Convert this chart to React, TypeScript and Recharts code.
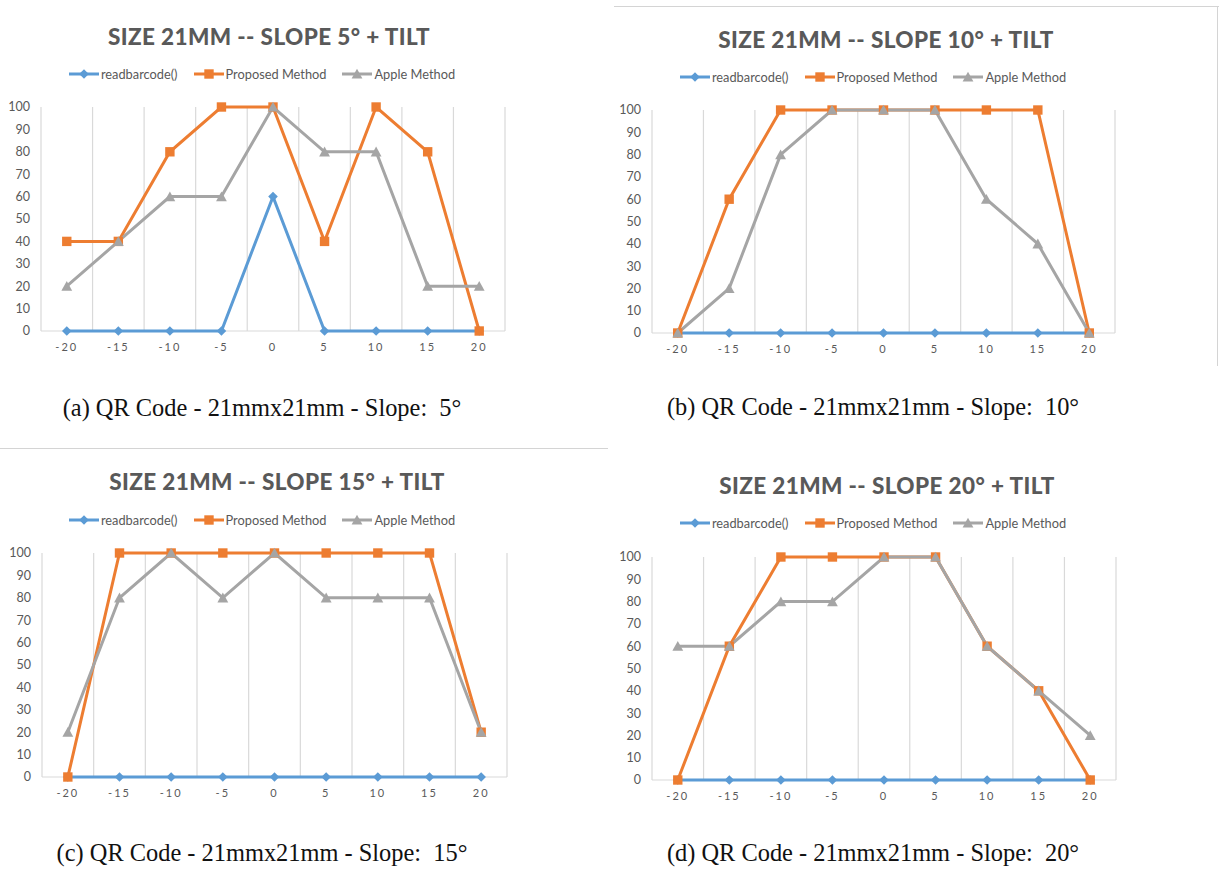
import React from 'react';
import { LineChart, Line, XAxis, YAxis, CartesianGrid, Legend } from 'recharts';

// ---------- data ----------
const xValues = [-20, -15, -10, -5, 0, 5, 10, 15, 20];
const gridBoundaries = [-22.5, -17.5, -12.5, -7.5, -2.5, 2.5, 7.5, 12.5, 17.5, 22.5];
const baseline = [0];
const yTicks = [0, 10, 20, 30, 40, 50, 60, 70, 80, 90, 100];
const seriesNames = ['readbarcode()', 'Proposed Method', 'Apple Method'];

const titles = [
  'SIZE 21MM -- SLOPE 5° + TILT',
  'SIZE 21MM -- SLOPE 10° + TILT',
  'SIZE 21MM -- SLOPE 15° + TILT',
  'SIZE 21MM -- SLOPE 20° + TILT',
];
const captions = [
  '(a) QR Code - 21mmx21mm - Slope:\u00a0 5°',
  '(b) QR Code - 21mmx21mm - Slope:\u00a0 10°',
  '(c) QR Code - 21mmx21mm - Slope:\u00a0 15°',
  '(d) QR Code - 21mmx21mm - Slope:\u00a0 20°',
];

const readbarcode5 = [0, 0, 0, 0, 60, 0, 0, 0, 0];
const proposed5 = [40, 40, 80, 100, 100, 40, 100, 80, 0];
const apple5 = [20, 40, 60, 60, 100, 80, 80, 20, 20];

const readbarcode10 = [0, 0, 0, 0, 0, 0, 0, 0, 0];
const proposed10 = [0, 60, 100, 100, 100, 100, 100, 100, 0];
const apple10 = [0, 20, 80, 100, 100, 100, 60, 40, 0];

const readbarcode15 = [0, 0, 0, 0, 0, 0, 0, 0, 0];
const proposed15 = [0, 100, 100, 100, 100, 100, 100, 100, 20];
const apple15 = [20, 80, 100, 80, 100, 80, 80, 80, 20];

const readbarcode20 = [0, 0, 0, 0, 0, 0, 0, 0, 0];
const proposed20 = [0, 60, 100, 100, 100, 100, 60, 40, 0];
const apple20 = [60, 60, 80, 80, 100, 100, 60, 40, 20];

const panelSeries = [
  [readbarcode5, proposed5, apple5],
  [readbarcode10, proposed10, apple10],
  [readbarcode15, proposed15, apple15],
  [readbarcode20, proposed20, apple20],
];

// ---------- styling / layout ----------
const COLORS = ['#5B9BD5', '#ED7D31', '#A5A5A5'];
const KEYS = ['readbarcode', 'proposed', 'apple'];
const TEXT = '#595959';
const GRID = '#d9d9d9';
const FONT = 'Lato, "Open Sans", sans-serif';

const layouts = [
  { L: 41, R: 505, T: 107, B: 331, titleX: 269, titleY: 37, legendX: 262, legendY: 74, capX: 262, capY: 408 },
  { L: 652, R: 1115, T: 110, B: 333, titleX: 886, titleY: 40, legendX: 873, legendY: 77, capX: 873, capY: 407 },
  { L: 42, R: 507, T: 553, B: 777, titleX: 277, titleY: 482, legendX: 262, legendY: 520, capX: 262, capY: 853 },
  { L: 652, R: 1116, T: 557, B: 780, titleX: 887, titleY: 486, legendX: 873, legendY: 523, capX: 873, capY: 853 },
];

type Shape = 'diamond' | 'square' | 'triangle';
const SHAPES: Shape[] = ['diamond', 'square', 'triangle'];

function markerPath(shape: Shape, cx: number, cy: number): string {
  if (shape === 'diamond') {
    const r = 4.8;
    return `M${cx},${cy - r}L${cx + r},${cy}L${cx},${cy + r}L${cx - r},${cy}Z`;
  }
  if (shape === 'square') {
    const h = 4.7;
    return `M${cx - h},${cy - h}H${cx + h}V${cy + h}H${cx - h}Z`;
  }
  const w = 5.4;
  return `M${cx},${cy - 5.2}L${cx + w},${cy + 4.6}L${cx - w},${cy + 4.6}Z`;
}

const makeDot = (shape: Shape, color: string) => (props: any) => {
  const { cx, cy, index } = props;
  if (cx == null || cy == null) return <g key={`n${index}`} />;
  return <path key={`d${index}`} d={markerPath(shape, cx, cy)} fill={color} stroke="none" />;
};

const LegendContent = (props: any) => {
  const raw = (props && props.payload) || [];
  const payload = [...raw].sort((a: any, b: any) => KEYS.indexOf(a.dataKey) - KEYS.indexOf(b.dataKey));
  return (
    <div
      style={{
        display: 'flex',
        justifyContent: 'center',
        alignItems: 'center',
        fontFamily: FONT,
        fontSize: 12.8,
        color: TEXT,
        height: 18,
      }}
    >
      {payload.map((entry: any, i: number) => {
        const idx = KEYS.indexOf(entry.dataKey);
        const k = idx >= 0 ? idx : i;
        return (
          <span key={k} style={{ display: 'inline-flex', alignItems: 'center', marginRight: i < payload.length - 1 ? 16 : 0 }}>
            <svg width={30} height={12} style={{ marginRight: 2 }}>
              <line x1={0} y1={6} x2={30} y2={6} stroke={COLORS[k]} strokeWidth={3} />
              <path d={markerPath(SHAPES[k], 15, 6)} fill={COLORS[k]} />
            </svg>
            <span>{entry.value}</span>
          </span>
        );
      })}
    </div>
  );
};

const Panel = ({ idx }: { idx: number }) => {
  const lay = layouts[idx];
  const series = panelSeries[idx];
  const data = xValues.map((x, i) => ({
    x,
    readbarcode: series[0][i],
    proposed: series[1][i],
    apple: series[2][i],
  }));
  const yAxisW = 30;
  const leftM = 11;
  const rightM = 12;
  const chartLeft = lay.L - yAxisW - leftM;
  const chartTop = lay.legendY - 15;
  const width = lay.R - lay.L + yAxisW + leftM + rightM;
  const xAxisH = 30;
  const height = lay.B - chartTop + xAxisH;
  const topM = lay.T - chartTop;

  return (
    <>
      <div
        style={{
          position: 'absolute',
          left: lay.titleX - 300,
          top: lay.titleY - 15,
          width: 600,
          height: 30,
          lineHeight: '30px',
          textAlign: 'center',
          fontFamily: FONT,
          fontWeight: 900,
          fontSize: 22.5,
          letterSpacing: 0.4,
          color: TEXT,
          whiteSpace: 'nowrap',
        }}
      >
        {titles[idx]}
      </div>
      <div style={{ position: 'absolute', left: chartLeft, top: chartTop }}>
        <LineChart
          width={width}
          height={height}
          data={data}
          margin={{ top: topM, right: rightM, left: leftM, bottom: 0 }}
        >
          <CartesianGrid
            horizontal={true}
            vertical={true}
            horizontalValues={baseline}
            verticalValues={gridBoundaries}
            stroke={GRID}
            strokeWidth={1.2}
          />
          <XAxis
            dataKey="x"
            type="number"
            domain={[-22.5, 22.5]}
            ticks={xValues}
            interval={0}
            height={xAxisH}
            axisLine={false}
            tickLine={false}
            tickSize={0}
            tickMargin={12}
            tick={{ fill: TEXT, fontSize: 11, fontFamily: FONT, letterSpacing: 2 }}
          />
          <YAxis
            type="number"
            domain={[0, 100]}
            ticks={yTicks}
            interval={0}
            width={yAxisW}
            axisLine={false}
            tickLine={false}
            tickSize={0}
            tickMargin={11}
            tick={{ fill: TEXT, fontSize: 12.5, fontFamily: FONT }}
          />
          <Legend
            layout="horizontal"
            verticalAlign="middle"
            align="center"
            wrapperStyle={{ top: 6, left: lay.legendX - chartLeft - 260, width: 520, height: 18 }}
            content={<LegendContent />}
          />
          {KEYS.map((k, i) => (
            <Line
              key={k}
              type="linear"
              dataKey={k}
              name={seriesNames[i]}
              stroke={COLORS[i]}
              strokeWidth={3}
              dot={makeDot(SHAPES[i], COLORS[i])}
              activeDot={false}
              isAnimationActive={false}
            />
          ))}
        </LineChart>
      </div>
      <div
        style={{
          position: 'absolute',
          left: lay.capX - 300,
          top: lay.capY - 16,
          width: 600,
          height: 32,
          lineHeight: '32px',
          textAlign: 'center',
          fontFamily: '"Liberation Serif", "DejaVu Serif", serif',
          fontSize: 24.4,
          color: '#111',
          whiteSpace: 'nowrap',
        }}
      >
        {captions[idx]}
      </div>
    </>
  );
};

export default function App() {
  return (
    <div
      style={{
        position: 'absolute',
        left: 0,
        top: 0,
        width: 1219,
        height: 871,
        background: '#fff',
        overflow: 'hidden',
      }}
    >
      {/* fragments of the original chart-area borders */}
      <div style={{ position: 'absolute', left: 614, top: 6, width: 605, height: 0, borderTop: '1px solid #d4d4d4' }} />
      <div style={{ position: 'absolute', left: 1217, top: 6, width: 0, height: 360, borderLeft: '1px solid #d4d4d4' }} />
      <div style={{ position: 'absolute', left: 0, top: 448, width: 608, height: 0, borderTop: '1px solid #d4d4d4' }} />
      {[0, 1, 2, 3].map((i) => (
        <Panel key={i} idx={i} />
      ))}
    </div>
  );
}
